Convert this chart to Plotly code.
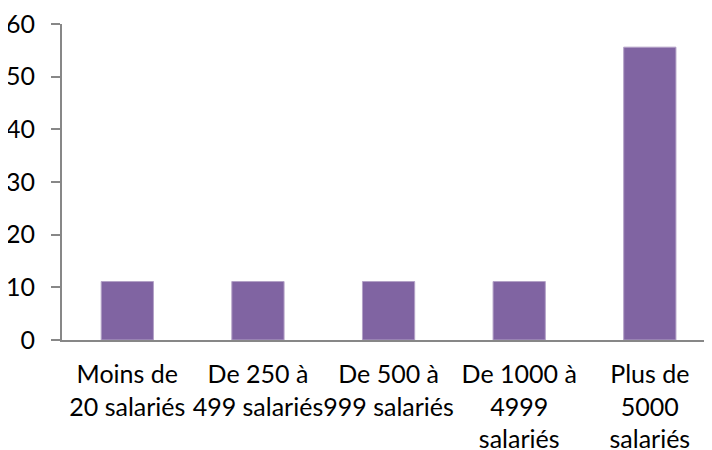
import plotly.graph_objects as go

categories = [
    "Moins de 20 salariés",
    "De 250 à 499 salariés",
    "De 500 à 999 salariés",
    "De 1000 à 4999 salariés",
    "Plus de 5000 salariés",
]
tick_labels = [
    "Moins de<br>20 salariés",
    "De 250 à<br>499 salariés",
    "De 500 à<br>999 salariés",
    "De 1000 à<br>4999<br>salariés",
    "Plus de<br>5000<br>salariés",
]
values = [11.1, 11.1, 11.1, 11.1, 55.6]
y_ticks = [0, 10, 20, 30, 40, 50, 60]

FONT = "Lato, 'Open Sans', sans-serif"
AXIS_COLOR = "#878787"

fig = go.Figure(
    go.Bar(
        x=list(range(len(categories))),
        y=values,
        marker=dict(color="#8064A2", line=dict(color="#B3A2C7", width=1)),
        hovertext=categories,
    )
)

fig.update_layout(
    width=704,
    height=442,
    margin=dict(l=54, r=0, t=16, b=110),
    paper_bgcolor="white",
    plot_bgcolor="white",
    bargap=0.6,
    showlegend=False,
    font=dict(family=FONT, size=25, color="#000000"),
)

fig.update_xaxes(
    range=[-0.5, 4.476],
    tickmode="array",
    tickvals=list(range(len(categories))),
    ticktext=tick_labels,
    tickangle=0,
    automargin=False,
    ticklabeloverflow="allow",
    showline=True,
    linecolor=AXIS_COLOR,
    linewidth=2,
    ticks="",
    ticklabelstandoff=11,
    showgrid=False,
    zeroline=False,
    tickfont=dict(family=FONT, size=25, color="#000000"),
)

fig.update_yaxes(
    range=[0, 60],
    tickmode="array",
    tickvals=y_ticks,
    automargin=False,
    ticklabeloverflow="allow",
    showline=True,
    linecolor=AXIS_COLOR,
    linewidth=2,
    ticks="outside",
    ticklen=9,
    tickwidth=2,
    tickcolor=AXIS_COLOR,
    ticklabelstandoff=11,
    showgrid=False,
    zeroline=False,
    tickfont=dict(family=FONT, size=25, color="#000000"),
)

fig.write_html("out.html")
